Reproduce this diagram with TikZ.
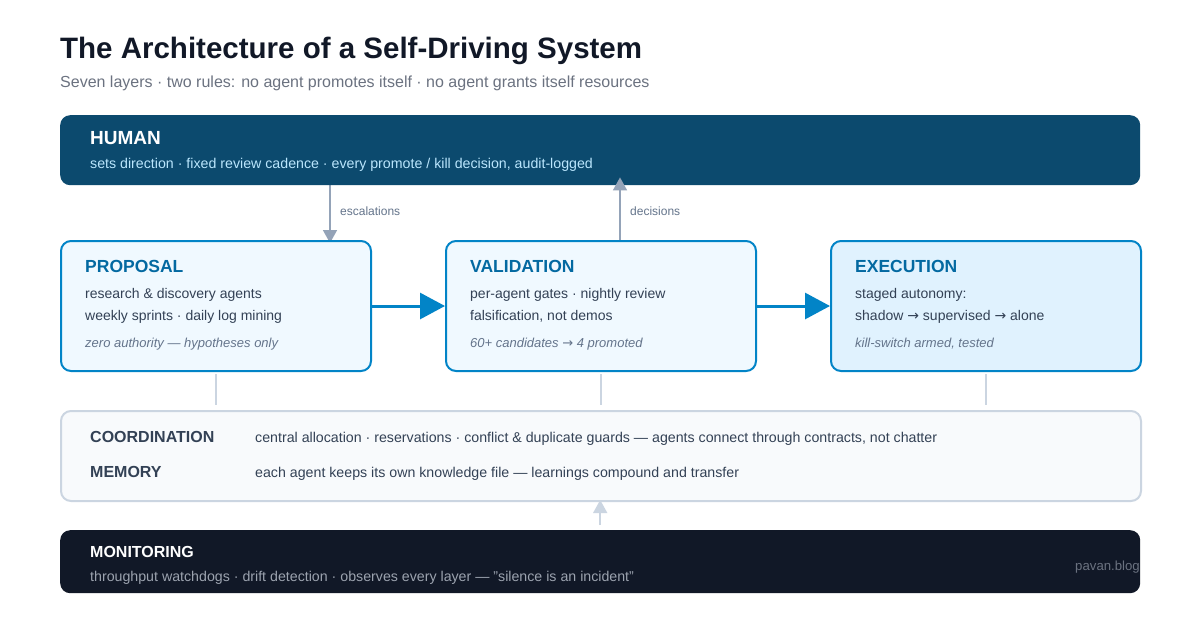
\documentclass[tikz,border=0pt]{standalone}
\usepackage{fontspec}
\setmainfont{Liberation Sans}
\newfontfamily\symb{DejaVu Sans}
\usetikzlibrary{arrows.meta}

\definecolor{encre}{HTML}{111827}
\definecolor{sousgris}{HTML}{6B7280}
\definecolor{humain}{HTML}{0C4A6E}
\definecolor{humaintxt}{HTML}{BAE6FD}
\definecolor{bleu}{HTML}{0284C7}
\definecolor{bleutitre}{HTML}{0369A1}
\definecolor{fondclair}{HTML}{F0F9FF}
\definecolor{fondexec}{HTML}{E0F2FE}
\definecolor{corps}{HTML}{334155}
\definecolor{note}{HTML}{64748B}
\definecolor{fleche}{HTML}{94A3B8}
\definecolor{bord}{HTML}{CBD5E1}
\definecolor{fondcoord}{HTML}{F8FAFC}
\definecolor{nuit}{HTML}{111827}
\definecolor{nuittxt}{HTML}{9CA3AF}

\newcommand{\taille}[1]{\fontsize{#1}{#1}\selectfont}
\newcommand{\fl}{{\symb →}}

\pgfdeclarelayer{fond}
\pgfsetlayers{fond,main}

\begin{document}
\begin{tikzpicture}[x=1pt,y=-1pt]
        \tikzstyle{couche}=[rounded corners=10pt, inner sep=0, anchor=north west];
        \tikzstyle{etage}=[couche, draw=bleu, line width=2pt, minimum width=310, minimum height=130];
        \tikzstyle{txt}=[inner sep=0, anchor=base west];
        \tikzstyle{tete}=[txt, font=\taille{17.5}\bfseries, text=bleutitre];
        \tikzstyle{ligne}=[txt, font=\taille{14}, text=corps];
        \tikzstyle{remarque}=[txt, font=\taille{13}\itshape, text=note];
        \tikzstyle{gris}=[draw=fleche, line width=1.5pt, -{Triangle[length=13pt,width=14pt]}];
        \tikzstyle{flux}=[draw=bleu, line width=3pt, -{Triangle[length=25pt,width=26pt]}];
        \tikzstyle{lien}=[draw=bord, line width=1.5pt];

        \begin{pgfonlayer}{fond}
          \fill[white] (0,0) rectangle (1200,630);
        \end{pgfonlayer}
        \useasboundingbox (0,0) rectangle (1200,630);

        \node[txt, font=\taille{29.5}\bfseries, text=encre] (titre) at (60,58) {The Architecture of a Self-Driving System};
        \node[txt, font=\taille{16}, text=sousgris] (sous) at (60,87) {Seven layers · two rules: no agent promotes itself · no agent grants itself resources};

        \node[couche, fill=humain, minimum width=1080, minimum height=70] (human) at (60,115) {};
        \node[txt, font=\taille{19}\bfseries, text=white] (humantete) at (90,144) {HUMAN};
        \node[txt, font=\taille{14.2}, text=humaintxt] (humantxt) at (90,168) {sets direction · fixed review cadence · every promote / kill decision, audit-logged};

        \coordinate (esc) at (330,0);
        \coordinate (dec) at (620,0);

        \node[etage, fill=fondclair] (prop) at (60,240) {};
        \node[etage, fill=fondclair] (valid) at (445,240) {};
        \node[etage, fill=fondexec] (exec) at (830,240) {};

        \begin{pgfonlayer}{fond}
          \draw[gris, shorten >=-3pt] (esc |- human.south) -- (esc |- prop.north);
        \end{pgfonlayer}
        \draw[gris, shorten >=-8pt] (dec |- valid.north) -- (dec |- human.south);
        \node[txt, font=\taille{12}, text=note] (esclab) at (340,215) {escalations};
        \node[txt, font=\taille{12}, text=note] (declab) at (630,215) {decisions};

        \node[tete] (proptete) at (85,272) {PROPOSAL};
        \node[ligne] (prop1) at (85,298) {research \& discovery agents};
        \node[ligne] (prop2) at (85,320) {weekly sprints · daily log mining};
        \node[remarque] (prop3) at (85,347) {zero authority — hypotheses only};

        \node[tete] (validtete) at (470,272) {VALIDATION};
        \node[ligne] (valid1) at (470,298) {per-agent gates · nightly review};
        \node[ligne] (valid2) at (470,320) {falsification, not demos};
        \node[remarque] (valid3) at (470,347) {60+ candidates \fl{} 4 promoted};

        \node[tete] (exectete) at (855,272) {EXECUTION};
        \node[ligne] (exec1) at (855,298) {staged autonomy:};
        \node[ligne] (exec2) at (855,320) {shadow \fl{} supervised \fl{} alone};
        \node[remarque] (exec3) at (855,347) {kill-switch armed, tested};

        \draw[flux] (prop.east) -- (valid.west);
        \draw[flux] (valid.east) -- (exec.west);

        \node[couche, fill=fondcoord, draw=bord, line width=2pt, minimum width=1080, minimum height=90] (coord) at (60,410) {};
        \foreach \n in {prop,valid,exec}{
          \draw[lien, shorten <=2pt, shorten >=5pt] (\n.south) -- (\n.south |- coord.north);
        }
        \node[txt, font=\taille{16}\bfseries, text=corps] (coordtete) at (90,442) {COORDINATION};
        \node[txt, font=\taille{14.2}, text=corps] (coordtxt) at (255,442) {central allocation · reservations · conflict \& duplicate guards — agents connect through contracts, not chatter};
        \node[txt, font=\taille{16}\bfseries, text=corps] (memtete) at (90,477) {MEMORY};
        \node[txt, font=\taille{14.2}, text=corps] (memtxt) at (255,477) {each agent keeps its own knowledge file — learnings compound and transfer};

        \node[couche, fill=nuit, minimum width=1080, minimum height=63] (monit) at (60,530) {};
        \draw[lien, -{Triangle[length=13pt,width=14pt]}, shorten <=5pt, shorten >=-2pt] (monit.north) -- (monit.north |- coord.south);
        \node[txt, font=\taille{16}\bfseries, text=white] (monittete) at (90,557) {MONITORING};
        \node[txt, font=\taille{14.2}, text=nuittxt] (monittxt) at (90,581) {throughput watchdogs · drift detection · observes every layer — "silence is an incident"};
        \node[txt, anchor=base east, font=\taille{13.2}, text=sousgris] (signe) at (1140,570) {pavan.blog};
\end{tikzpicture}
\end{document}
